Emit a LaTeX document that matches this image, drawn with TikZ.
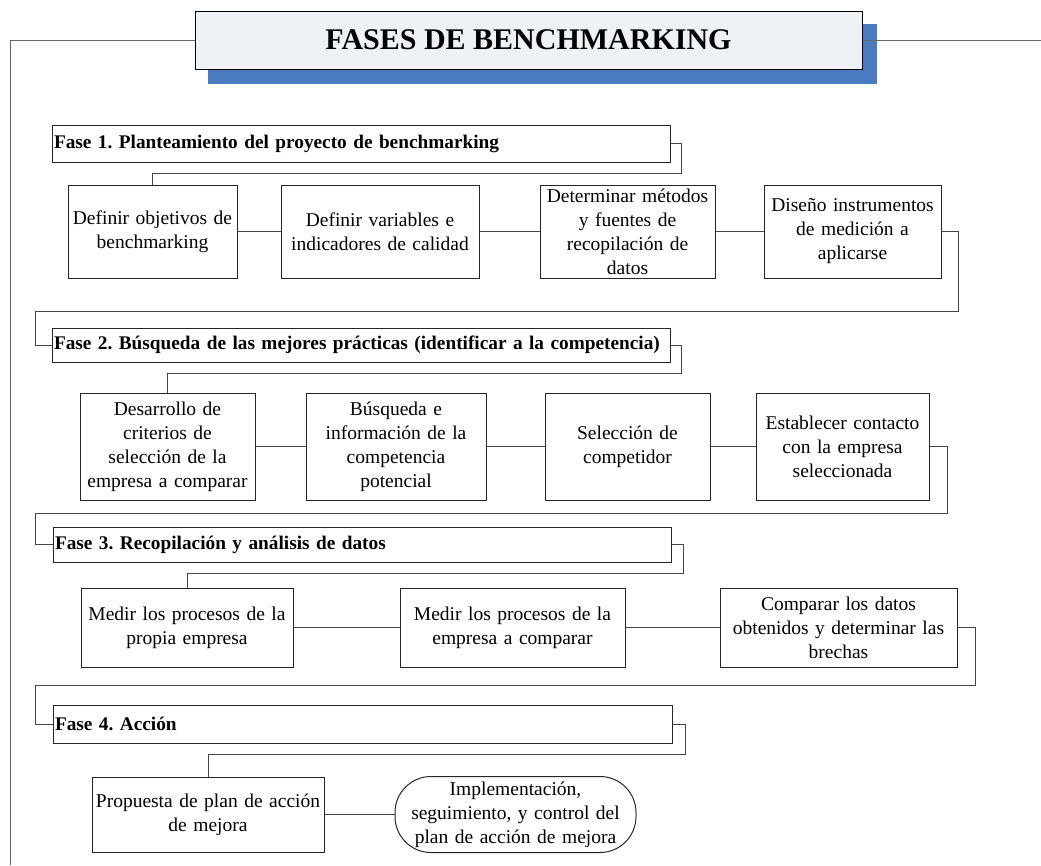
\documentclass[tikz,border=0pt]{standalone}
\usepackage{fontspec}
\setmainfont{Liberation Serif}
\frenchspacing
\definecolor{titlefill}{RGB}{238,241,246}
\definecolor{shadowblue}{RGB}{74,123,192}
\definecolor{linegray}{RGB}{70,70,70}
\tikzset{
  box/.style={draw=black!85, line width=1pt, align=center, inner sep=1pt,
    font=\fontsize{19.5}{24}\selectfont},
  phase/.style={draw=black!85, line width=1pt, align=left, inner sep=2pt, anchor=center,
    font=\fontsize{19.3}{24}\selectfont\bfseries},
  conn/.style={draw=linegray, line width=1pt},
}
\begin{document}
\begin{tikzpicture}[x=1pt,y=-1pt]
\useasboundingbox (0,0) rectangle (1041,865);
% title
\fill[shadowblue] (208,24) rectangle (877,84);
\node[draw=black, line width=1pt, fill=titlefill, minimum width=667pt, minimum height=58pt,
  font=\fontsize{30}{34}\selectfont\bfseries] (title) at (528.5,40) {FASES DE BENCHMARKING};
\coordinate (tl) at (10,40);
\coordinate (bl) at (10,865);
\coordinate (tr) at (1041,40);
\draw[conn, draw=black!60] (title.west) -- (tl) -- (bl);
\draw[conn, draw=black!60] (title.east) -- (tr);

% Phase 1
\node[phase, minimum width=618pt, minimum height=37pt, text width=614pt] (f1) at (361,143.5)
  {\mbox{Fase 1. Planteamiento del proyecto de benchmarking}};
\node[box, minimum width=169pt, minimum height=93pt, text width=167pt] (a1) at (152.5,231.5)
  {Definir objetivos de\\benchmarking};
\node[box, minimum width=198pt, minimum height=93pt, text width=196pt] (a2) at (380,231.5)
  {Definir variables e\\indicadores de calidad};
\node[box, minimum width=175pt, minimum height=93pt, text width=173pt] (a3) at (627.5,231.5)
  {Determinar métodos\\y fuentes de\\recopilación de\\datos};
\node[box, minimum width=177pt, minimum height=93pt, text width=175pt] (a4) at (852.5,231.5)
  {Diseño instrumentos\\de medición a\\aplicarse};
\draw[conn] (f1.east) -| (681,173) -| (a1.north);
\draw[conn] (a1) -- (a2);
\draw[conn] (a2) -- (a3);
\draw[conn] (a3) -- (a4);

% Phase 2
\node[phase, minimum width=618pt, minimum height=34pt, text width=614pt] (f2) at (361,345)
  {\mbox{Fase 2. Búsqueda de las mejores prácticas (identificar a la competencia)}};
\draw[conn] (a4.east) -| (958,311) -| (35,345) -- (f2.west);
\node[box, minimum width=175pt, minimum height=107pt, text width=173pt] (b1) at (167.5,446.5)
  {Desarrollo de\\criterios de\\selección de la\\empresa a comparar};
\node[box, minimum width=180pt, minimum height=107pt, text width=178pt] (b2) at (396,446.5)
  {Búsqueda e\\información de la\\competencia\\potencial};
\node[box, minimum width=165pt, minimum height=107pt, text width=163pt] (b3) at (627.5,446.5)
  {Selección de\\competidor};
\node[box, minimum width=173pt, minimum height=107pt, text width=171pt] (b4) at (842.5,446.5)
  {Establecer contacto\\con la empresa\\seleccionada};
\draw[conn] (f2.east) -| (681,373) -| (b1.north);
\draw[conn] (b1) -- (b2);
\draw[conn] (b2) -- (b3);
\draw[conn] (b3) -- (b4);

% Phase 3
\node[phase, minimum width=618pt, minimum height=35pt, text width=614pt] (f3) at (362,544.5)
  {\mbox{Fase 3. Recopilación y análisis de datos}};
\draw[conn] (b4.east) -| (947,513) -| (35,544.5) -- (f3.west);
\node[box, minimum width=212pt, minimum height=79pt, text width=210pt] (c1) at (187,627.5)
  {Medir los procesos de la\\propia empresa};
\node[box, minimum width=225pt, minimum height=79pt, text width=223pt] (c2) at (512.5,627.5)
  {Medir los procesos de la\\empresa a comparar};
\node[box, minimum width=237pt, minimum height=79pt, text width=235pt] (c3) at (838.5,627.5)
  {Comparar los datos\\obtenidos y determinar las\\brechas};
\draw[conn] (f3.east) -| (683,573) -| (c1.north);
\draw[conn] (c1) -- (c2);
\draw[conn] (c2) -- (c3);

% Phase 4
\node[phase, minimum width=619pt, minimum height=38pt, text width=615pt] (f4) at (362.5,724)
  {\mbox{Fase 4. Acción}};
\draw[conn] (c3.east) -| (975,685) -| (35,724) -- (f4.west);
\node[box, minimum width=232pt, minimum height=75pt, text width=230pt] (d1) at (208,814.5)
  {Propuesta de plan de acción\\de mejora};
\node[box, rounded corners=36pt, minimum width=241pt, minimum height=76pt, text width=239pt] (d2) at (515.5,814.5)
  {Implementación,\\seguimiento, y control del\\plan de acción de mejora};
\draw[conn] (f4.east) -| (685,754) -| (d1.north);
\draw[conn] (d1) -- (d2);
\end{tikzpicture}
\end{document}
